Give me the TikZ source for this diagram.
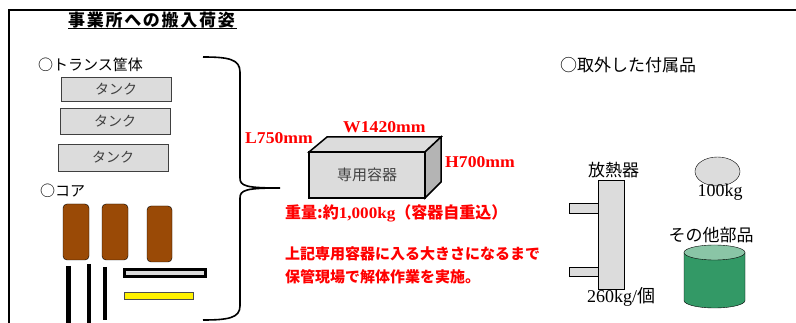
\documentclass[tikz,border=0pt]{standalone}
\usepackage{fontspec}
\setmainfont{Liberation Serif}
\newfontfamily\jp{Noto Sans CJK JP}
\newfontfamily\jpt[LetterSpace=10]{Noto Sans CJK JP}
\newfontfamily\dimf[FakeStretch=1.07]{Liberation Serif}
\definecolor{boxgray}{HTML}{DCDCDC}
\definecolor{sidegray}{HTML}{B4B4B4}
\definecolor{corebrown}{HTML}{9A4A06}
\definecolor{drumgreen}{HTML}{339966}
\definecolor{drumtop}{HTML}{8AC5A6}
\begin{document}
\begin{tikzpicture}[x=1pt,y=-1pt]
	\tikzstyle{lbl} = [inner sep=0, font=\jp\fontsize{15}{18}\selectfont]
	\tikzstyle{biglbl} = [inner sep=0, font=\jp\fontsize{17}{20}\selectfont]
	\tikzstyle{tank} = [draw=black!75, fill=boxgray, inner sep=0, font=\jp\fontsize{14}{16}\selectfont, text=black!75]
	\tikzstyle{core} = [draw=black, fill=corebrown, rounded corners=4pt]
	\tikzstyle{rod} = [line width=4.5pt]
	\tikzstyle{dim} = [inner sep=0, anchor=west, text=red, font=\dimf\bfseries\fontsize{16.5}{18}\selectfont]
	\tikzstyle{note} = [inner sep=0, anchor=west, text=red, font=\jp\bfseries\fontsize{15}{18}\selectfont]
	\useasboundingbox (0,0) rectangle (796,323);

	% frame
	\draw [line width=2pt] (9,323) -- (9,10) -- (796,10);
	\node [inner sep=0, anchor=west, font=\jpt\bfseries\fontsize{17}{18}\selectfont] (title) at (68,20) {事業所への搬入荷姿};
	\draw [line width=1.2pt] (68,28.5) -- (237,28.5);

	% transformer casing
	\node [lbl, anchor=west] (casing) at (38,65) {○トランス筐体};
	\node [tank, minimum width=110, minimum height=24] (tank1) at (116,89) {タンク};
	\node [tank, minimum width=110, minimum height=26] (tank2) at (115,121) {タンク};
	\node [tank, minimum width=110, minimum height=27] (tank3) at (113,157.5) {タンク};

	% core
	\node [lbl, anchor=west] (core) at (40,191) {○コア};
	\draw [core] (63,204) rectangle (89,260);
	\draw [core] (102,204) rectangle (128,260);
	\draw [core] (147,206) rectangle (172,262);
	\draw [rod] (68.5,266) -- (68.5,323);
	\draw [rod] (89,264) -- (89,323);
	\draw [rod] (105,267) -- (105,320);
	\draw [line width=3pt, fill=boxgray] (124.5,269.5) rectangle (205.5,276.5);
	\draw [draw=black!70, fill=yellow] (124,292) rectangle (193,299);

	% brace
	\draw [line width=1.6pt] (203,57) .. controls (228,57) and (240,59) .. (240,72) -- (240,178)
		.. controls (240,186) and (246,188) .. (280,188)
		.. controls (246,188) and (240,190) .. (240,198) -- (240,306)
		.. controls (240,318) and (228,320) .. (203,320);

	% container
	\draw [line width=1.5pt, fill=boxgray] (309,152) -- (327,137) -- (441,137) -- (425,152) -- cycle;
	\draw [line width=1.5pt, fill=sidegray] (425,152) -- (441,137) -- (441,182) -- (425,198) -- cycle;
	\node [draw, line width=1.5pt, fill=boxgray, minimum width=116, minimum height=46, inner sep=0,
		font=\jp\fontsize{15}{18}\selectfont, text=black!75] (box) at (367,175) {専用容器};
	\node [dim] (len) at (245,138) {L750mm};
	\node [dim] (wid) at (343,127) {W1420mm};
	\node [dim] (hgt) at (445,162) {H700mm};
	\node [note, font=\jp\bfseries\fontsize{16}{18}\selectfont] (weight) at (285,213) {重量:約{\dimf\bfseries 1,000kg}（容器自重込）};
	\node [note] (note1) at (285,254) {上記専用容器に入る大きさになるまで};
	\node [note] (note2) at (285,277) {保管現場で解体作業を実施。};

	% removed parts
	\node [biglbl, anchor=west] (parts) at (560,65) {○取外した付属品};
	\node [biglbl] (rad) at (613.5,170) {放熱器};
	\draw [fill=boxgray] (598,180) rectangle (624,289);
	\draw [fill=boxgray] (569,203) rectangle (598,213);
	\draw [fill=boxgray] (569,267) rectangle (598,276);
	\node [inner sep=0, font=\fontsize{18}{20}\selectfont] (radw) at (621,297) {260kg/{\jp 個}};
	\draw [fill=boxgray] (717.5,171.5) ellipse [x radius=22.5, y radius=14.5];
	\node [inner sep=0, font=\fontsize{18}{20}\selectfont] (misw) at (720,192) {100kg};
	\node [biglbl] (other) at (711,235) {その他部品};
	\draw [fill=drumgreen] (684,252.5) -- (684,300.5) arc [start angle=180, end angle=360, x radius=30.5, y radius=-7.5] -- (745,252.5);
	\draw [fill=drumtop] (714.5,252.5) ellipse [x radius=30.5, y radius=7.5];
\end{tikzpicture}
\end{document}
